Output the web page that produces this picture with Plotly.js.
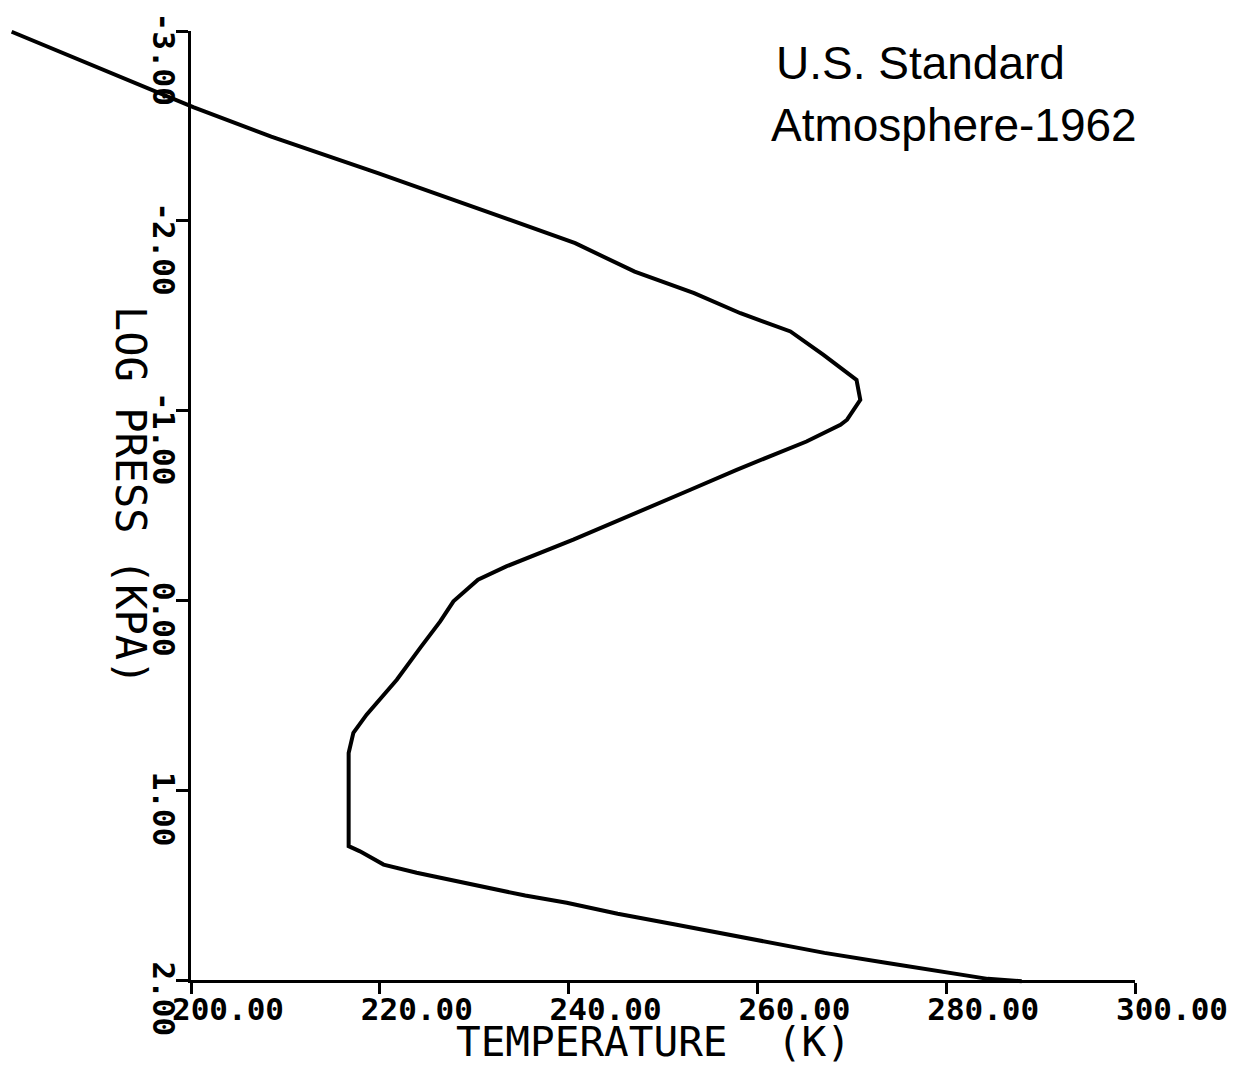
<!DOCTYPE html>
<html>
<head>
<meta charset="utf-8">
<script src="https://cdn.plot.ly/plotly-3.0.1.min.js"></script>
<style>
  html, body { margin: 0; padding: 0; background: #ffffff; }
  #chart { width: 1243px; height: 1067px; }
</style>
</head>
<body>
<div id="chart"></div>
<script>
// ---- data ----
const temperatureK = [181.0, 200.3, 208.5, 219.8, 232.3, 240.7, 247.0, 253.3, 258.2, 263.5,
  267.0, 270.5, 270.9, 269.5, 268.8, 265.2, 261.7, 257.8, 252.9, 247.6,
  240.5, 233.4, 230.4, 227.8, 226.4, 224.3, 221.8, 218.6, 217.2, 216.7,
  216.7, 217.9, 220.4, 223.9, 229.8, 235.4, 239.8, 245.2, 251.3, 257.8,
  262.5, 267.1, 273.6, 280.2, 284.4, 288.0];
const logPressKPa = [-2.996, -2.598, -2.443, -2.251, -2.031, -1.882, -1.732, -1.619, -1.513, -1.417,
  -1.294, -1.162, -1.057, -0.952, -0.925, -0.837, -0.767, -0.688, -0.583, -0.469,
  -0.320, -0.179, -0.109, 0.005, 0.111, 0.249, 0.418, 0.602, 0.698, 0.804,
  1.295, 1.322, 1.392, 1.435, 1.497, 1.555, 1.593, 1.651, 1.708, 1.769,
  1.813, 1.857, 1.909, 1.962, 1.994, 2.006];

const xTickVals = [200, 220, 240, 260, 280, 300];
const xTickText = ['200.00', '220.00', '240.00', '260.00', '280.00', '300.00'];
const yTickVals = [-3, -2, -1, 0, 1, 2];
const yTickText = ['-3.00', '-2.00', '-1.00', '0.00', '1.00', '2.00'];

const xTitle = 'TEMPERATURE  (K)';
const yTitle = 'LOG PRESS (KPA)';
const titleLine1 = 'U.S. Standard';
const titleLine2 = 'Atmosphere-1962';

// ---- layout geometry (pixels) ----
const W = 1243, H = 1067;
const axL = 191, axR = 1135, axT = 31, axB = 980;
const xMin = 200, xMax = 300, yTop = -3, yBot = 2;
const kx = (xMax - xMin) / (axR - axL);
const ky = (yBot - yTop) / (axB - axT);

const monoFont = 'DejaVu Sans Mono, Liberation Mono, monospace';

const traces = [
  // empty trace to keep the framed axes
  { x: [], y: [], xaxis: 'x', yaxis: 'y', type: 'scatter', mode: 'lines', showlegend: false, hoverinfo: 'skip' },
  // the profile, drawn on a full-page overlay with identical scale so it can leave the frame
  { x: temperatureK, y: logPressKPa, xaxis: 'x2', yaxis: 'y2', type: 'scatter', mode: 'lines',
    line: { color: '#000000', width: 4 }, showlegend: false, hoverinfo: 'skip' }
];

const annotations = [];
yTickVals.forEach((v, i) => {
  annotations.push({
    text: '<b>' + yTickText[i] + '</b>', xref: 'paper', yref: 'y', x: 164 / W, y: v,
    xanchor: 'center', yanchor: 'top', yshift: 21, textangle: 90, showarrow: false,
    font: { family: monoFont, size: 31, color: '#000000' }
  });
});
annotations.push({
  text: xTitle, xref: 'paper', yref: 'paper', x: 653 / W, y: 1 - 1042 / H,
  xanchor: 'center', yanchor: 'middle', showarrow: false, borderpad: 0,
  font: { family: monoFont, size: 41, color: '#000000' }
});
annotations.push({
  text: yTitle, xref: 'paper', yref: 'paper', x: 131 / W, y: 1 - 495 / H,
  xanchor: 'center', yanchor: 'middle', textangle: 90, showarrow: false,
  font: { family: monoFont, size: 42, color: '#000000' }
});
annotations.push({
  text: titleLine1, xref: 'paper', yref: 'paper', x: 774 / W, y: 1 - 63 / H,
  xanchor: 'left', yanchor: 'middle', showarrow: false,
  font: { family: 'Liberation Sans, Arial, sans-serif', size: 46, color: '#000000' }
});
annotations.push({
  text: titleLine2, xref: 'paper', yref: 'paper', x: 769 / W, y: 1 - 125 / H,
  xanchor: 'left', yanchor: 'middle', showarrow: false,
  font: { family: 'Liberation Sans, Arial, sans-serif', size: 46, color: '#000000' }
});

const layout = {
  width: W, height: H,
  margin: { l: 0, r: 0, t: 0, b: 0, pad: 0 },
  paper_bgcolor: '#ffffff', plot_bgcolor: 'rgba(0,0,0,0)',
  showlegend: false,
  xaxis: {
    domain: [axL / W, axR / W], range: [xMin, xMax], anchor: 'y',
    showline: true, linecolor: '#000000', linewidth: 3, mirror: false,
    ticks: 'outside', ticklen: 11, tickwidth: 3, tickcolor: '#000000',
    tickmode: 'array', tickvals: xTickVals, ticktext: xTickText.map(t => '<b>' + t + '</b>'),
    ticklabelshift: 37, ticklabelstandoff: -11,
    tickfont: { family: monoFont, size: 31, color: '#000000' },
    showgrid: false, zeroline: false, fixedrange: true
  },
  yaxis: {
    domain: [1 - axB / H, 1 - axT / H], range: [yBot, yTop], anchor: 'x',
    showline: true, linecolor: '#000000', linewidth: 3, mirror: false,
    ticks: 'outside', ticklen: 12, tickwidth: 3, tickcolor: '#000000',
    tickmode: 'array', tickvals: yTickVals, showticklabels: false,
    showgrid: false, zeroline: false, fixedrange: true
  },
  xaxis2: {
    domain: [0, 1], anchor: 'y2',
    range: [xMin - axL * kx, xMax + (W - axR) * kx],
    visible: false, fixedrange: true
  },
  yaxis2: {
    domain: [0, 1], anchor: 'x2',
    range: [yBot + (H - axB) * ky, yTop - axT * ky],
    visible: false, fixedrange: true
  },
  annotations: annotations
};

Plotly.newPlot('chart', traces, layout, { staticPlot: true, displayModeBar: false });
</script>
</body>
</html>
